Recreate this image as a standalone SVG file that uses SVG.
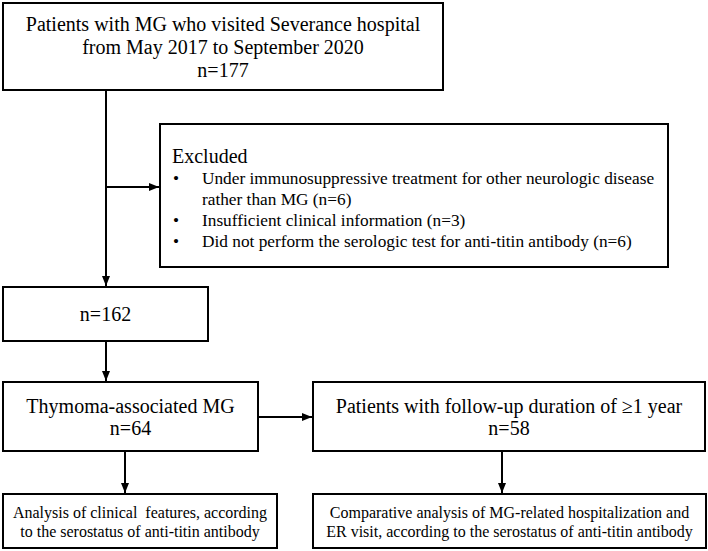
<svg xmlns="http://www.w3.org/2000/svg" width="708" height="551" viewBox="0 0 708 551">
<defs>
<style>
.box{fill:#fff;stroke:#000;stroke-width:2}
.t{font-family:"Liberation Serif","Times New Roman",serif;fill:#000}
.c{text-anchor:middle}
.f20{font-size:20px}
.f17{font-size:17.3px}
.f16{font-size:16px}
.ln{fill:none;stroke:#000;stroke-width:2}
</style>
<marker id="ah" markerUnits="userSpaceOnUse" markerWidth="10" markerHeight="10" viewBox="0 0 10 10" refX="10" refY="5" orient="auto">
<path d="M0,1 L10,5 L0,9 Z" fill="#000"/>
</marker>
</defs>
<rect width="708" height="551" fill="#fff"/>
<g id="connectors">
<line class="ln" x1="106" y1="90" x2="106" y2="286" marker-end="url(#ah)"/>
<line class="ln" x1="106" y1="187" x2="159" y2="187" marker-end="url(#ah)"/>
<line class="ln" x1="106" y1="341" x2="106" y2="381" marker-end="url(#ah)"/>
<line class="ln" x1="258" y1="417" x2="312" y2="417" marker-end="url(#ah)"/>
<line class="ln" x1="125" y1="451" x2="125" y2="493" marker-end="url(#ah)"/>
<line class="ln" x1="502" y1="451" x2="502" y2="493" marker-end="url(#ah)"/>
</g>
<g id="n1">
<rect class="box" x="3" y="3" width="440" height="87"/>
<text class="t c f20" x="223" y="31">Patients with MG who visited Severance hospital</text>
<text class="t c f20" x="223" y="54">from May 2017 to September 2020</text>
<text class="t c f20" x="223" y="77">n=177</text>
</g>
<g id="excluded">
<rect class="box" x="160" y="124" width="508" height="143"/>
<text class="t f20" x="172" y="163">Excluded</text>
<g class="t f17">
<text x="173" y="184">•</text>
<text x="202" y="184">Under immunosuppressive treatment for other neurologic disease</text>
<text x="202" y="205">rather than MG (n=6)</text>
<text x="173" y="226">•</text>
<text x="202" y="226">Insufficient clinical information (n=3)</text>
<text x="173" y="247">•</text>
<text x="202" y="247">Did not perform the serologic test for anti-titin antibody (n=6)</text>
</g>
</g>
<g id="n162">
<rect class="box" x="3" y="287" width="205" height="54"/>
<text class="t c f20" x="105.5" y="321">n=162</text>
</g>
<g id="thymoma">
<rect class="box" x="3" y="382" width="255" height="69"/>
<text class="t c f20" x="130.5" y="413">Thymoma-associated MG</text>
<text class="t c f20" x="130.5" y="435">n=64</text>
</g>
<g id="followup">
<rect class="box" x="313" y="382" width="392" height="69"/>
<text class="t c f20" x="509" y="413">Patients with follow-up duration of ≥1 year</text>
<text class="t c f20" x="509" y="435">n=58</text>
</g>
<g id="analysis1">
<rect class="box" x="3" y="494" width="274" height="54"/>
<text class="t c f16" x="140" y="518">Analysis of clinical&#160; features, according</text>
<text class="t c f16" x="140" y="537">to the serostatus of anti-titin antibody</text>
</g>
<g id="analysis2">
<rect class="box" x="313" y="494" width="393" height="54"/>
<text class="t c f16" x="509.5" y="518">Comparative analysis of MG-related hospitalization and</text>
<text class="t c f16" x="509.5" y="537">ER visit, according to the serostatus of anti-titin antibody</text>
</g>
</svg>
